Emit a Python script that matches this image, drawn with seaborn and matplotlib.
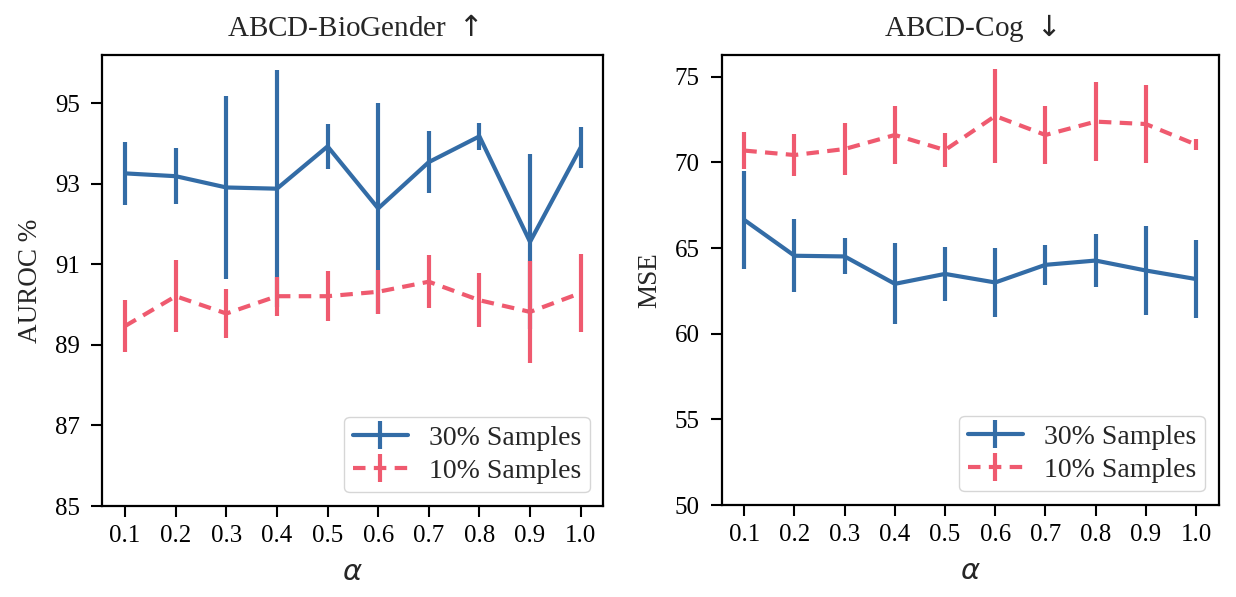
import numpy as np
import pandas as pd
import matplotlib
matplotlib.use("Agg")
import matplotlib.pyplot as plt
from matplotlib.lines import Line2D
import seaborn as sns

alphas = [0.1, 0.2, 0.3, 0.4, 0.5, 0.6, 0.7, 0.8, 0.9, 1.0]
tick_labels = ["0.1", "0.2", "0.3", "0.4", "0.5", "0.6", "0.7", "0.8", "0.9", "1.0"]

# ABCD-BioGender (AUROC %)
bio_30_mean = [93.26, 93.19, 92.91, 92.88, 93.93, 92.39, 93.54, 94.18, 91.56, 93.90]
bio_30_err = [0.78, 0.70, 2.27, 2.94, 0.55, 2.62, 0.77, 0.34, 2.17, 0.50]
bio_10_mean = [89.47, 90.21, 89.78, 90.21, 90.21, 90.32, 90.57, 90.11, 89.82, 90.29]
bio_10_err = [0.64, 0.90, 0.62, 0.48, 0.62, 0.55, 0.66, 0.67, 1.26, 0.96]

# ABCD-Cog (MSE)
cog_30_mean = [66.64, 64.55, 64.51, 62.91, 63.49, 62.99, 64.02, 64.27, 63.69, 63.19]
cog_30_err = [2.87, 2.13, 1.05, 2.36, 1.60, 2.04, 1.15, 1.55, 2.57, 2.30]
cog_10_mean = [70.69, 70.43, 70.78, 71.60, 70.72, 72.71, 71.60, 72.38, 72.24, 71.04]
cog_10_err = [1.10, 1.22, 1.50, 1.70, 1.00, 2.77, 1.70, 2.30, 2.28, 0.30]

series_labels = ["30% Samples", "10% Samples"]
blue = "#336ca6"
red = "#ef5a6f"

sns.set_style("ticks")
plt.rcParams["font.family"] = ["Liberation Serif", "DejaVu Serif"]
plt.rcParams["mathtext.fontset"] = "dejavusans"

fig = plt.figure(figsize=(12.36, 5.97), dpi=100)
ax1 = fig.add_axes([0.0828, 0.1524, 0.4054, 0.7555])
ax2 = fig.add_axes([0.5839, 0.1541, 0.4020, 0.7538])

DASH = (0, (3.0, 2.0))


def panel(ax, m30, e30, m10, e10, ylim, yticks, ylabel, title):
    df = pd.DataFrame({"alpha": alphas * 2,
                       "value": m30 + m10,
                       "series": [series_labels[0]] * 10 + [series_labels[1]] * 10})
    sns.lineplot(data=df[df.series == series_labels[0]], x="alpha", y="value",
                 color=blue, lw=3, ax=ax, legend=False)
    sns.lineplot(data=df[df.series == series_labels[1]], x="alpha", y="value",
                 color=red, lw=3, ax=ax, legend=False, linestyle=DASH)
    ax.errorbar(alphas, m30, yerr=e30, fmt="none", ecolor=blue, elinewidth=3, capsize=0)
    ax.errorbar(alphas, m10, yerr=e10, fmt="none", ecolor=red, elinewidth=3, capsize=0)
    ax.set_ylim(*ylim)
    ax.set_yticks(yticks)
    ax.set_xticks(alphas)
    ax.set_xticklabels(tick_labels)
    ax.tick_params(labelsize=18, length=8, width=1.5, colors="black")
    ax.tick_params(axis="x", pad=6)
    ax.tick_params(axis="y", pad=8)
    for s in ax.spines.values():
        s.set_linewidth(1.6)
        s.set_color("black")
    ax.set_xlabel(r"$\alpha$", fontsize=21, labelpad=9)
    ax.set_ylabel(ylabel, fontsize=19.5, labelpad=9)
    ax.set_title(title, fontsize=21, pad=14)
    h1 = (Line2D([], [], color=blue, lw=3),
          Line2D([], [], color=blue, marker="|", ms=20, mew=3, ls="none"))
    h2 = (Line2D([], [], color=red, lw=3, linestyle=DASH),
          Line2D([], [], color=red, marker="|", ms=20, mew=3, ls="none"))
    ax.legend([h1, h2], series_labels, loc="lower right", fontsize=20,
              borderpad=0.3, handlelength=2.0, handletextpad=0.75,
              labelspacing=0.28, borderaxespad=0.5)


panel(ax1, bio_30_mean, bio_30_err, bio_10_mean, bio_10_err,
      (85, 96.2), [85, 87, 89, 91, 93, 95], "AUROC %", r"ABCD-BioGender $\uparrow$")
panel(ax2, cog_30_mean, cog_30_err, cog_10_mean, cog_10_err,
      (50, 76.27), [50, 55, 60, 65, 70, 75], "MSE", r"ABCD-Cog $\downarrow$")

fig.savefig("out.png", dpi=100)
